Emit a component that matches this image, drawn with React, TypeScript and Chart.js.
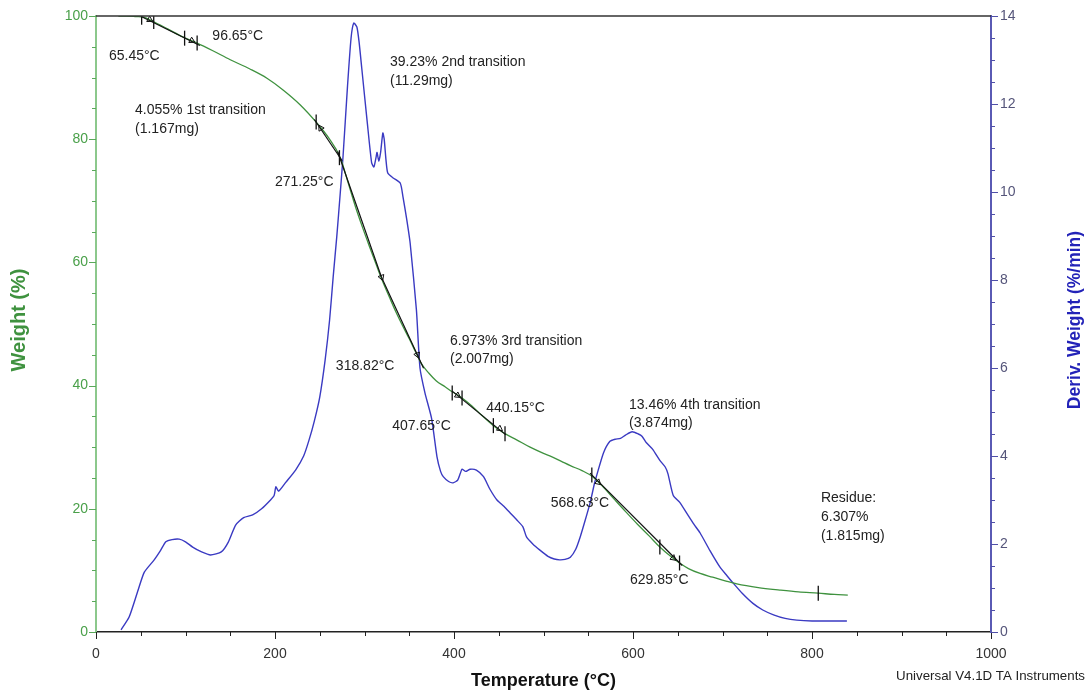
import React, { useEffect, useRef } from 'react';
import { Chart, registerables } from 'chart.js';

Chart.register(...registerables);

// ---- data ----
const weightTemp = [25, 35, 45, 53, 64, 80, 97, 113, 130, 150, 172, 191, 209, 228, 247, 260, 273, 282, 290, 298, 305, 313, 320, 328, 335, 343, 350, 357, 363, 372, 380, 390, 398, 409, 420, 430, 444, 457, 470, 485, 500, 507, 520, 530, 543, 555, 565, 580, 592, 605, 618, 630, 641, 652, 662, 675, 689, 703, 716, 740, 764, 785, 807, 825, 840];
const weightPct = [100, 100, 99.9, 99.8, 99.1, 97.9, 96.6, 95.6, 94.4, 92.9, 91.4, 89.9, 88.0, 85.6, 82.6, 80.2, 77, 72.8, 69, 65.6, 62.8, 59.7, 57, 54.3, 52, 49.6, 47.6, 45.5, 43.7, 42, 40.8, 39.8, 39, 38, 36.7, 35.3, 33.5, 32.2, 31.2, 30, 29, 28.6, 27.7, 27, 26.2, 25.2, 23.8, 21.4, 19.5, 17.5, 15.6, 13.8, 12.4, 11.2, 10.3, 9.5, 8.9, 8.3, 7.8, 7.2, 6.8, 6.5, 6.3, 6.1, 6.0];

const derivTemp = [28, 37, 47, 54, 65, 72, 78, 85, 93, 100, 108, 118, 128, 140, 148, 156, 165, 175, 185, 195, 199, 201, 204, 212, 223, 232, 238, 244, 250, 256, 261, 265, 269, 273, 276, 281, 285, 288, 291.5, 294, 297, 303, 308, 310.5, 313, 314, 316, 318, 320.5, 322, 324, 326, 332, 340, 343, 347, 351, 358, 362, 367.6, 375, 381, 385, 388, 394, 399, 404, 407, 409, 413, 418, 425, 433, 440, 448, 456, 463, 470, 477, 481, 488, 496, 505, 512, 518, 524, 530, 536, 541, 546, 552, 557, 560, 567, 574, 580, 586, 592, 599, 606, 610, 615, 622, 630, 636, 639, 645, 652, 660, 668, 675, 686, 697, 705, 712, 722, 734, 745, 757, 770, 783, 800, 820, 839];
const derivVal = [0.05, 0.34, 0.95, 1.36, 1.64, 1.85, 2.05, 2.1, 2.11, 2.05, 1.93, 1.82, 1.75, 1.82, 2.05, 2.43, 2.6, 2.66, 2.8, 3.0, 3.1, 3.3, 3.2, 3.4, 3.68, 4.0, 4.36, 4.8, 5.34, 6.18, 7.09, 8.07, 8.98, 10.0, 10.8, 12.4, 13.5, 13.84, 13.75, 13.4, 12.8, 11.6, 10.66, 10.57, 10.8, 10.9, 10.7, 10.9, 11.34, 11.2, 10.73, 10.43, 10.32, 10.2, 9.89, 9.4, 8.84, 7.32, 6.0, 5.43, 4.85, 3.98, 3.65, 3.53, 3.42, 3.39, 3.45, 3.6, 3.7, 3.65, 3.7, 3.68, 3.53, 3.25, 3.0, 2.85, 2.7, 2.55, 2.39, 2.16, 2.0, 1.86, 1.72, 1.66, 1.64, 1.65, 1.7, 1.88, 2.16, 2.5, 2.93, 3.38, 3.6, 4.07, 4.33, 4.38, 4.4, 4.48, 4.55, 4.5, 4.45, 4.3, 4.15, 3.9, 3.75, 3.6, 3.1, 2.95, 2.7, 2.45, 2.25, 1.85, 1.48, 1.28, 1.11, 0.88, 0.65, 0.5, 0.39, 0.31, 0.27, 0.25, 0.25, 0.25];

// tangent segments drawn in black
const tangentTemps = [[50, 116], [244, 275], [270, 319, 366], [398, 458], [552, 655]];
const tangentWeights = [[99.95, 95.2], [83.2, 76.5], [78, 57.6, 42.8], [39.1, 32.0], [25.8, 10.8]];

// small vertical marker ticks on the weight curve
const markerTemp = [51, 64.5, 99, 113, 246, 272, 398, 409, 444, 457, 554, 630, 652, 807];
const markerWeight = [99.8, 99.1, 96.4, 95.6, 82.8, 77, 38.8, 38, 33.5, 32.2, 25.5, 13.8, 11.2, 6.3];

// arrowheads on the tangents
const arrowTemp = [60, 107, 251, 319, 359, 404, 451, 561, 645];
const arrowWeight = [99.4, 96.0, 81.8, 57.6, 45, 38.4, 33, 24.3, 12];
const arrowAngle = [118, 118, -32, 160, 158, 125, 125, 132, 130];

// annotation texts (anchored in data units: temperature, weight %)
const noteText = ['65.45°C', '96.65°C', '4.055% 1st transition', '(1.167mg)', '271.25°C', '39.23% 2nd transition', '(11.29mg)', '318.82°C', '6.973% 3rd transition', '(2.007mg)', '407.65°C', '440.15°C', '13.46% 4th transition', '(3.874mg)', '568.63°C', '629.85°C', 'Residue:', '6.307%', '(1.815mg)'];
const noteTemp = [14.5, 130, 43.6, 43.6, 200, 328.5, 328.5, 268, 395.5, 395.5, 331, 436, 595.5, 595.5, 508, 596.6, 810, 810, 810];
const noteWeight = [93.5, 96.8, 84.7, 81.7, 73.1, 92.5, 89.4, 43.2, 47.2, 44.3, 33.4, 36.4, 36.9, 33.9, 20.9, 8.4, 21.8, 18.7, 15.6];

const FONT = "'Liberation Sans', Arial, sans-serif";
const GREEN = '#3f923f';
const BLUE = '#3a3ac2';

const decorPlugin = {
  id: 'decor',
  afterDraw(chart: any) {
    const { ctx, chartArea } = chart;
    const x = chart.scales.x;
    const y = chart.scales.y;
    const y1 = chart.scales.y1;
    ctx.save();
    // top border
    ctx.strokeStyle = '#333';
    ctx.lineWidth = 1.5;
    ctx.beginPath();
    ctx.moveTo(chartArea.left, chartArea.top);
    ctx.lineTo(chartArea.right, chartArea.top);
    ctx.stroke();
    // x ticks
    ctx.lineWidth = 1;
    ctx.strokeStyle = '#222';
    for (let v = 0; v <= 1000; v += 50) {
      const px = Math.round(x.getPixelForValue(v)) + 0.5;
      const len = v % 200 === 0 ? 7 : 4;
      ctx.beginPath();
      ctx.moveTo(px, chartArea.bottom);
      ctx.lineTo(px, chartArea.bottom + len);
      ctx.stroke();
    }
    // left ticks
    ctx.strokeStyle = '#5aa85a';
    for (let v = 0; v <= 100; v += 5) {
      const py = Math.round(y.getPixelForValue(v)) + 0.5;
      const len = v % 20 === 0 ? 7 : 4;
      ctx.beginPath();
      ctx.moveTo(chartArea.left, py);
      ctx.lineTo(chartArea.left - len, py);
      ctx.stroke();
    }
    // right ticks
    ctx.strokeStyle = '#5050a8';
    for (let v = 0; v <= 14; v += 0.5) {
      const py = Math.round(y1.getPixelForValue(v)) + 0.5;
      const len = v % 2 === 0 ? 7 : 4;
      ctx.beginPath();
      ctx.moveTo(chartArea.right, py);
      ctx.lineTo(chartArea.right + len, py);
      ctx.stroke();
    }
    // axis titles
    ctx.textAlign = 'center';
    ctx.textBaseline = 'middle';
    ctx.font = `bold 20px ${FONT}`;
    ctx.fillStyle = GREEN;
    ctx.save();
    ctx.translate(19, 320);
    ctx.rotate(-Math.PI / 2);
    ctx.fillText('Weight (%)', 0, 0);
    ctx.restore();
    ctx.font = `bold 17.5px ${FONT}`;
    ctx.fillStyle = '#2323b8';
    ctx.save();
    ctx.translate(1075, 320);
    ctx.rotate(-Math.PI / 2);
    ctx.fillText('Deriv. Weight (%/min)', 0, 0);
    ctx.restore();
    ctx.fillStyle = '#111';
    ctx.font = `bold 18px ${FONT}`;
    ctx.fillText('Temperature (°C)', (chartArea.left + chartArea.right) / 2, 681);
    // footer
    ctx.font = `13.3px ${FONT}`;
    ctx.textAlign = 'right';
    ctx.fillStyle = '#222';
    ctx.fillText('Universal V4.1D TA Instruments', 1085, 676);
    // annotations
    ctx.font = `14px ${FONT}`;
    ctx.textAlign = 'left';
    ctx.fillStyle = '#222';
    for (let i = 0; i < noteText.length; i++) {
      ctx.fillText(noteText[i], x.getPixelForValue(noteTemp[i]), y.getPixelForValue(noteWeight[i]));
    }
    ctx.restore();
  },
};

export default function App() {
  const canvasRef = useRef<HTMLCanvasElement | null>(null);

  useEffect(() => {
    const canvas = canvasRef.current;
    if (!canvas) return;

    const tangentSets = tangentTemps.map((ts, i) => ({
      label: 'tangent' + i,
      data: ts.map((t, j) => ({ x: t, y: tangentWeights[i][j] })),
      yAxisID: 'y',
      borderColor: '#111',
      borderWidth: 1.2,
      pointRadius: 0,
      fill: false,
    }));

    const chart = new Chart(canvas, {
      type: 'line',
      data: {
        datasets: [
          {
            label: 'markers',
            data: markerTemp.map((t, i) => ({ x: t, y: markerWeight[i] })),
            yAxisID: 'y',
            showLine: false,
            pointStyle: 'line',
            pointRotation: 90,
            pointRadius: 7.5,
            pointBorderColor: '#111',
            pointBorderWidth: 1.3,
          },
          {
            label: 'arrows',
            data: arrowTemp.map((t, i) => ({ x: t, y: arrowWeight[i] })),
            yAxisID: 'y',
            showLine: false,
            pointStyle: 'triangle',
            pointRotation: arrowAngle,
            pointRadius: 3.5,
            pointBorderColor: '#111',
            pointBackgroundColor: 'rgba(0,0,0,0)',
            pointBorderWidth: 1,
          },
          ...tangentSets,
          {
            label: 'Weight',
            data: weightTemp.map((t, i) => ({ x: t, y: weightPct[i] })),
            yAxisID: 'y',
            borderColor: GREEN,
            borderWidth: 1.3,
            pointRadius: 0,
            cubicInterpolationMode: 'monotone',
            fill: false,
          },
          {
            label: 'Deriv. Weight',
            data: derivTemp.map((t, i) => ({ x: t, y: derivVal[i] })),
            yAxisID: 'y1',
            borderColor: BLUE,
            borderWidth: 1.4,
            pointRadius: 0,
            tension: 0.2,
            fill: false,
          },
        ] as any,
      },
      options: {
        animation: false,
        responsive: false,
        maintainAspectRatio: false,
        layout: { padding: { top: 16, left: 0, right: 0, bottom: 0 } },
        plugins: {
          legend: { display: false },
          tooltip: { enabled: false },
        },
        scales: {
          x: {
            type: 'linear',
            position: 'bottom',
            min: 0,
            max: 1000,
            afterFit: (s: any) => { s.height = 64; },
            grid: { display: false },
            border: { display: true, color: '#222', width: 1.5 },
            ticks: {
              stepSize: 50,
              autoSkip: false,
              maxRotation: 0,
              padding: 6,
              color: '#333',
              font: { family: FONT, size: 14 },
              callback: (v: any) => (Number(v) % 200 === 0 ? String(v) : ''),
            },
          },
          y: {
            type: 'linear',
            position: 'left',
            min: 0,
            max: 100,
            afterFit: (s: any) => { s.width = 96; },
            grid: { display: false },
            border: { display: true, color: '#8cc88c', width: 2 },
            ticks: {
              stepSize: 20,
              padding: 0,
              color: '#4aa04a',
              font: { family: FONT, size: 14 },
            },
          },
          y1: {
            type: 'linear',
            position: 'right',
            min: 0,
            max: 14,
            afterFit: (s: any) => { s.width = 100; },
            grid: { display: false },
            border: { display: true, color: '#5a5ab4', width: 2 },
            ticks: {
              stepSize: 2,
              padding: 1,
              color: '#55557a',
              font: { family: FONT, size: 14 },
            },
          },
        },
      } as any,
      plugins: [decorPlugin],
    });

    return () => chart.destroy();
  }, []);

  return (
    <div style={{ position: 'absolute', left: 0, top: 0, width: 1091, height: 696, background: '#fff' }}>
      <canvas ref={canvasRef} width={1091} height={696} />
    </div>
  );
}
